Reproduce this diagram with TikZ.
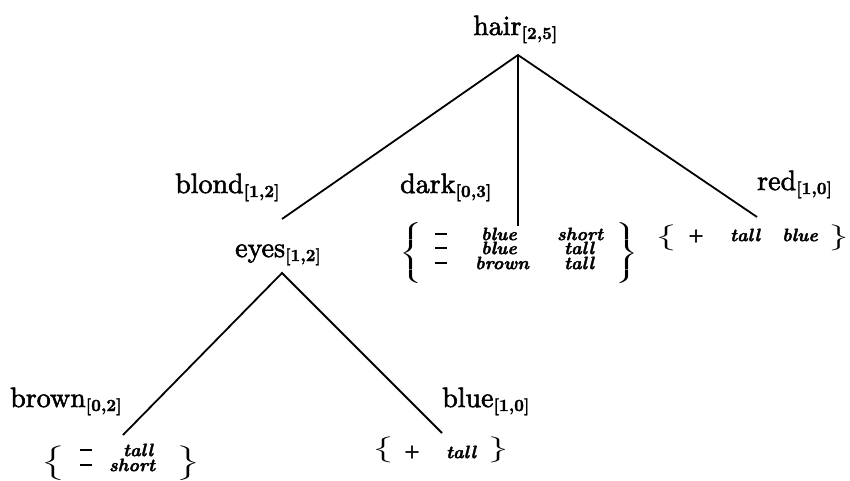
\documentclass[tikz,border=0pt]{standalone}
\usepackage{amsmath}
\usepackage{graphicx}
\usepackage{fontspec}
\newfontfamily\mainf[FakeBold=2]{lmroman10-regular.otf}
\newfontfamily\subf[FakeBold=1.5]{lmroman10-bold.otf}
\newfontfamily\setf[FakeBold=1.8]{lmroman10-bolditalic.otf}
\newfontfamily\signf[FakeBold=3]{lmroman10-bold.otf}
\newcommand\lab[2]{#1\raisebox{-4pt}{\subf\fontsize{17}{19}\selectfont[#2]}}
\newcommand\mylbr[2]{\scalebox{#2}[1]{$\left\{\vcenter{\hbox{\rule{0pt}{#1}}}\right.$}}
\newcommand\myrbr[2]{\scalebox{#2}[1]{$\left.\vcenter{\hbox{\rule{0pt}{#1}}}\right\}$}}
\newcommand\mym{\rule[-1.3pt]{12pt}{2.6pt}}
\tikzset{
  lbl/.style={inner sep=0pt, anchor=base west, font=\mainf\fontsize{28}{30}\selectfont},
  st/.style={inner sep=0pt, font=\setf\fontsize{18}{20}\selectfont},
  sg/.style={inner sep=0pt, font=\signf\fontsize{17}{19}\selectfont},
  br/.style={inner sep=0pt, font=\fontsize{15}{17}\selectfont},
  edge/.style={line width=1.8pt}
}
\begin{document}
\begin{tikzpicture}[x=1pt,y=-1pt]
\useasboundingbox (0,0) rectangle (850,481);
% tree nodes
\node[lbl] (hair) at (473,35) {\lab{hair}{2,5}};
\node[lbl] (eyes) at (235,257) {\lab{eyes}{1,2}};
% edge labels
\node[lbl] (blond) at (175,193) {\lab{blond}{1,2}};
\node[lbl] (dark) at (400,193) {\lab{dark}{0,3}};
\node[lbl] (red) at (757,190) {\lab{red}{1,0}};
\node[lbl] (brown) at (10,407) {\lab{brown}{0,2}};
\node[lbl] (blue) at (442,407) {\lab{blue}{1,0}};
% connector ends
\coordinate (hairS) at (518,55);
\coordinate (eyesN) at (282,219);
\coordinate (eyesS) at (282,273);
\coordinate (darkN) at (518,226);
\coordinate (redN) at (757,217);
\coordinate (brownN) at (123,435);
\coordinate (blueN) at (442,433);
\draw[edge] (eyesN) -- (hairS) -- (redN);
\draw[edge] (hairS) -- (darkN);
\draw[edge] (brownN) -- (eyesS) -- (blueN);
% dark set
\node[br] (dL) at (412,253) {\mylbr{58pt}{1.8}};
\node[br] (dR) at (626,253) {\myrbr{58pt}{1.8}};
\node[sg] (d1m) at (441,234) {\mym};
\node[sg] (d2m) at (441,248) {\mym};
\node[sg] (d3m) at (441,263) {\mym};
\node[st] (d1a) at (499,234) {blue};
\node[st] (d2a) at (499,248) {blue};
\node[st] (d3a) at (502,263) {brown};
\node[st] (d1b) at (580,234) {short};
\node[st] (d2b) at (579,248) {tall};
\node[st] (d3b) at (579,263) {tall};
% red set
\node[br] (rL) at (668,238) {\mylbr{22pt}{2.3}};
\node[sg] (r1p) at (696,236) {+};
\node[st] (r1a) at (745,235) {tall};
\node[st] (r1b) at (800,235) {blue};
\node[br] (rR) at (838,238) {\myrbr{22pt}{2.2}};
% brown set
\node[br] (bL) at (55,463) {\mylbr{36pt}{2.2}};
\node[sg] (b1m) at (86,450) {\mym};
\node[sg] (b2m) at (86,465) {\mym};
\node[st] (b1a) at (138,450) {tall};
\node[st] (b2a) at (132,465) {short};
\node[br] (bR) at (187,463) {\myrbr{36pt}{2.2}};
% blue set
\node[br] (uL) at (385,450) {\mylbr{24pt}{2.3}};
\node[sg] (u1p) at (412,452) {+};
\node[st] (u1a) at (461,452) {tall};
\node[br] (uR) at (497,450) {\myrbr{24pt}{2.3}};
\end{tikzpicture}
\end{document}
